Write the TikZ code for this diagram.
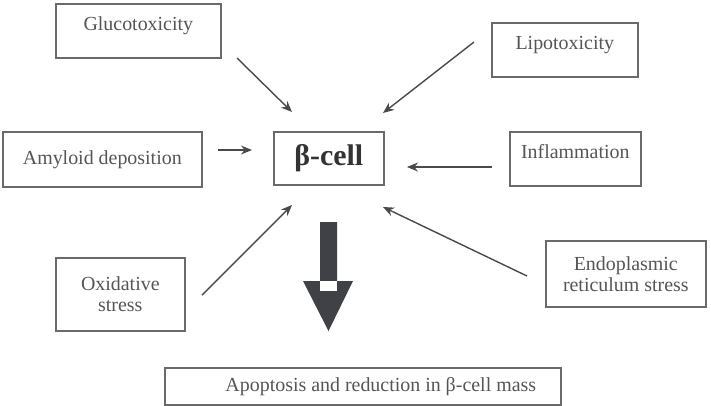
\documentclass[tikz,border=0pt]{standalone}
\usepackage{fontspec}
\setmainfont{Liberation Serif}
\usetikzlibrary{arrows.meta}
\definecolor{boxgray}{HTML}{6A6A6A}
\definecolor{txtgray}{HTML}{555555}
\definecolor{arrgray}{HTML}{4A4A4A}
\definecolor{bigarr}{HTML}{3F4147}
\begin{document}
\begin{tikzpicture}[x=1bp,y=-1bp,
  fbox/.style={draw=boxgray,line width=1.6bp,fill=white,inner sep=0pt,anchor=north west,
    text=txtgray,font=\fontsize{20}{21}\selectfont,align=center},
  upper/.style={text depth=14bp},
  conn/.style={draw=arrgray,line width=1.4bp,-{Stealth[length=11bp,width=9bp]}}]
\useasboundingbox (0,0) rectangle (711,405);
\node[fbox,upper,minimum width=165bp,minimum height=54bp] (gluco) at (55,3) {Glucotoxicity};
\node[fbox,upper,minimum width=146bp,minimum height=54bp] (lipo) at (491,22) {Lipotoxicity};
\node[fbox,minimum width=199bp,minimum height=55bp] (amy) at (2,131) {Amyloid deposition};
\node[fbox,upper,minimum width=131bp,minimum height=54bp] (infl) at (509,131) {Inflammation};
\node[fbox,minimum width=129bp,minimum height=73bp] (oxi) at (55,257) {Oxidative\\stress};
\node[fbox,minimum width=160bp,minimum height=66bp] (endo) at (545,240) {Endoplasmic\\reticulum stress};
\node[fbox,minimum width=110bp,minimum height=53bp,text=black!80,font=\fontsize{30}{32}\selectfont\bfseries] (beta) at (273,131) {β-cell};
\node[fbox,minimum width=396bp,minimum height=37bp] (apo) at (164,367) {\hspace*{36bp}Apoptosis and reduction in β-cell mass};
% connector endpoints
\coordinate (g1) at (237,58); \coordinate (g2) at (292,112);
\coordinate (l1) at (474,42); \coordinate (l2) at (383,113);
\coordinate (a1) at (218,150); \coordinate (a2) at (252,150);
\coordinate (i1) at (492,167); \coordinate (i2) at (407,167);
\coordinate (o1) at (202,295); \coordinate (o2) at (292,205);
\coordinate (e1) at (527,276); \coordinate (e2) at (383,207);
\draw[conn] (g1) -- (g2);
\draw[conn] (l1) -- (l2);
\draw[conn] (a1) -- (a2);
\draw[conn] (i1) -- (i2);
\draw[conn] (o1) -- (o2);
\draw[conn] (e1) -- (e2);
% big arrow
\fill[bigarr] (320,222) -- (337,222) -- (337,281) -- (353,281) -- (328.5,331) -- (303,281) -- (320,281) -- cycle;
\fill[white] (320,281) rectangle (337,291);
\end{tikzpicture}
\end{document}
